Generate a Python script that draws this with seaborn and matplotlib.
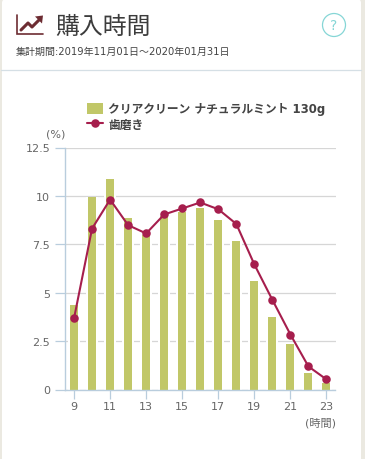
import pandas as pd
from matplotlib import pyplot as plt
from matplotlib.patches import FancyBboxPatch, Circle
import seaborn as sns

hours = ['9', '10', '11', '12', '13', '14', '15', '16', '17', '18', '19', '20', '21', '22', '23']
product = [4.35, 9.93, 10.87, 8.85, 8.0, 8.95, 9.17, 9.36, 8.74, 7.66, 5.6, 3.73, 2.34, 0.84, 0.32]
category = [3.67, 8.31, 9.81, 8.49, 8.06, 9.04, 9.35, 9.66, 9.31, 8.55, 6.46, 4.63, 2.84, 1.19, 0.52]
y_ticks = [0, 2.5, 5, 7.5, 10, 12.5]
y_labels = ['0', '2.5', '5', '7.5', '10', '12.5']

product_name = 'クリアクリーン ナチュラルミント 130g'
category_name = '歯磨き'

bar_col = '#c1c768'
line_col = '#a61e4d'
axis_col = '#b9cddd'
grid_col = '#d6d6d6'
text_col = '#666666'
W, H = 365, 460

sns.set_theme(style='white')
plt.rcParams['font.family'] = ['DejaVu Sans', 'Noto Sans CJK JP']

data = pd.DataFrame({'hour': hours, 'product': product, 'category': category})

fig = plt.figure(figsize=(W / 100, H / 100), dpi=100, facecolor='#ebe9e1')

# page furniture, drawn in pixel coordinates
bg = fig.add_axes([0, 0, 1, 1], zorder=0)
bg.set_xlim(0, W)
bg.set_ylim(H, 0)
bg.axis('off')
bg.add_patch(FancyBboxPatch((2, 0), 359, 480, boxstyle='round,pad=0,rounding_size=4', fc='white', ec='none'))
bg.plot([1, 361], [70.5, 70.5], color='#d5dfe5', lw=0.9)
bg.plot([16.5, 16.5, 43], [16, 34.5, 34.5], color='#6d2c32', lw=1.2, solid_joinstyle='miter')
bg.plot([21, 28, 32, 40], [31, 24, 28, 20], color='#6d2c32', lw=2.2)
bg.fill([35, 43, 42], [17.5, 16.5, 24.5], color='#6d2c32', lw=0)
bg.text(55, 26.5, '購入時間', fontsize=17.2, color='#3c3c3c', va='center', ha='left')
bg.text(16, 52, '集計期間:2019年11月01日～2020年01月31日', fontsize=7.2, color='#444444', va='center', ha='left')
bg.add_patch(Circle((334, 26), 11.5, fc='none', ec='#86d6d6', lw=0.9))
bg.text(334, 26, '?', fontsize=10, color='#86d6d6', va='center', ha='center')
bg.text(65, 134.5, '(%)', fontsize=8, color=text_col, va='center', ha='right')
bg.text(336, 423, '(時間)', fontsize=8, color=text_col, va='center', ha='right')

ax = fig.add_axes([65 / W, 1 - 390.5 / H, 270.5 / W, 242 / H], zorder=1)
ax.patch.set_alpha(0)

# white band behind each bar breaks the grid lines, like the original
sns.barplot(data=data, x='hour', y='product', color='white', saturation=1, width=12 / 18, linewidth=0, ax=ax)
sns.barplot(data=data, x='hour', y='product', color=bar_col, saturation=1, width=8 / 18, linewidth=0,
            label=product_name, ax=ax)
sns.pointplot(data=data, x='hour', y='category', color=line_col, linewidth=1.5, markersize=5,
              markers='o', label=category_name, ax=ax)

ax.set_xlim(-0.5, 14.5)
ax.set_ylim(0, 12.5)
ax.set_xticks(range(0, 15, 2))
ax.set_xticklabels(hours[::2])
ax.set_yticks(y_ticks)
ax.set_yticklabels(y_labels)
ax.set_xlabel('')
ax.set_ylabel('')
ax.set_axisbelow(True)
ax.yaxis.grid(True, color=grid_col, lw=0.9)
ax.xaxis.grid(False)
ax.tick_params(axis='y', length=7.2, width=0.9, color=axis_col, labelcolor=text_col, labelsize=8, pad=3.5, left=True)
ax.tick_params(axis='x', length=6.5, width=0.9, color=axis_col, labelcolor=text_col, labelsize=8, pad=1.5, bottom=True)
sns.despine(ax=ax, top=True, right=True)
for side in ['left', 'bottom']:
    ax.spines[side].set_color(axis_col)
    ax.spines[side].set_linewidth(1)

handles, labels = ax.get_legend_handles_labels()
order = [labels.index(product_name), labels.index(category_name)]
leg = ax.legend([handles[i] for i in order], [labels[i] for i in order], loc='upper left',
                bbox_to_anchor=(87 / W, 1 - 103.5 / H), bbox_transform=fig.transFigure, frameon=False,
                labelspacing=0.18, handlelength=1.35, handleheight=1.0, handletextpad=0.43,
                borderpad=0, borderaxespad=0, prop={'size': 8.5, 'weight': 'bold'})
for t in leg.get_texts():
    t.set_color('#444444')

plt.savefig('out.png', dpi=100)
